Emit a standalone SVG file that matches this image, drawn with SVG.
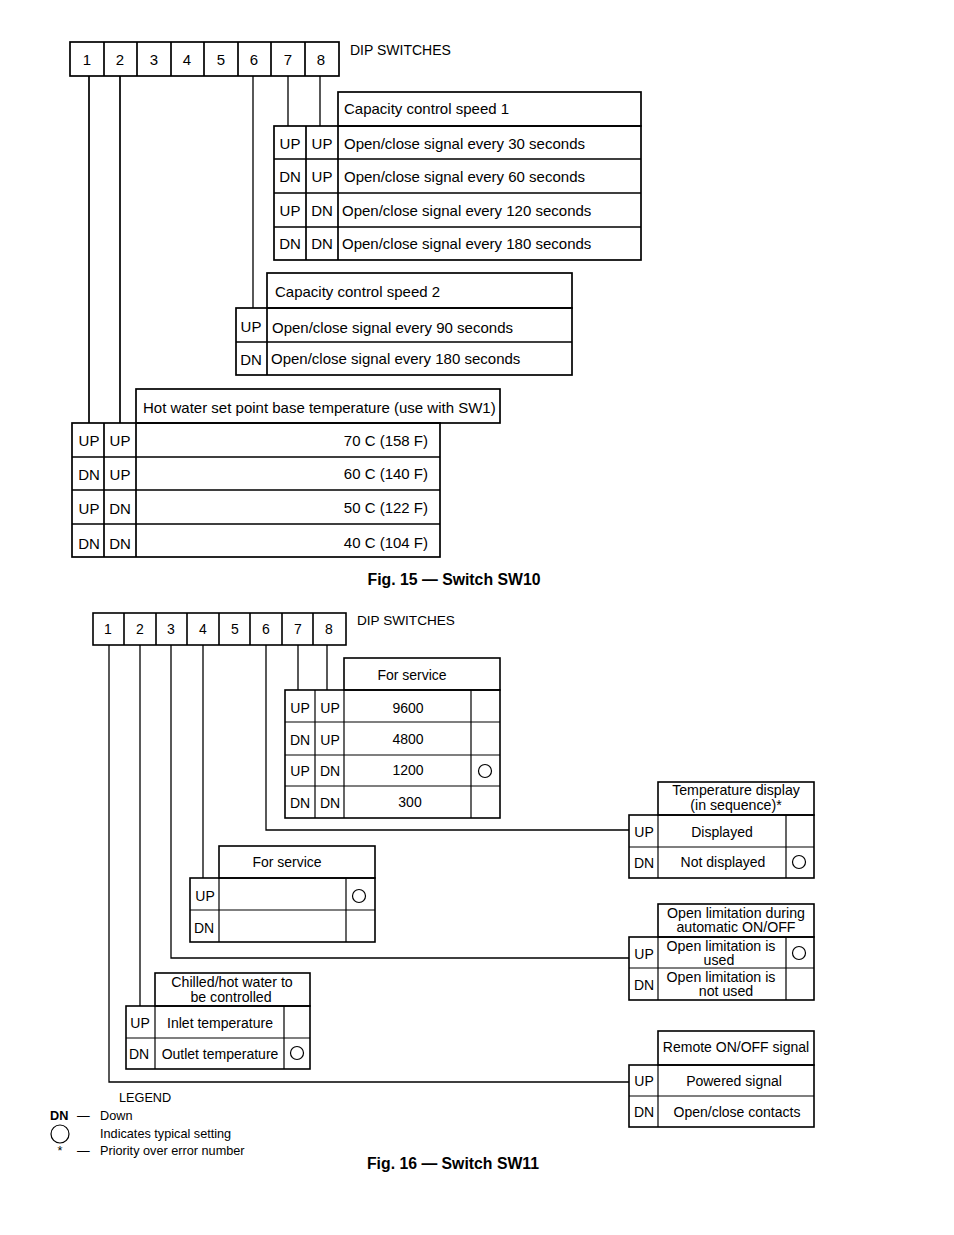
<svg xmlns="http://www.w3.org/2000/svg" width="954" height="1235" viewBox="0 0 954 1235">
<style>
text{font-family:"Liberation Sans",Arial,sans-serif;fill:#000}
.a{font-size:15px}
.b{font-size:14px}
.s{font-size:14.2px}
.d{font-size:13.6px}
.g{font-size:12.7px}
.m{text-anchor:middle}
.r{text-anchor:end}
.ttl{font-size:15.8px;font-weight:bold;text-anchor:middle}
.k{fill:none;stroke:#000;stroke-width:1.7}
.n{fill:none;stroke:#000;stroke-width:1.3}
.w{fill:none;stroke:#000;stroke-width:1.6}
.v{fill:none;stroke:#000;stroke-width:1.2}
.o{fill:none;stroke:#000;stroke-width:1.2}
</style>
<rect width="954" height="1235" fill="#fff"/>

<!-- ================= FIG 15 ================= -->
<g id="sw10-dip">
<rect class="k" x="70" y="42" width="269" height="34"/>
<path class="k" d="M104,42V76M137,42V76M171,42V76M204,42V76M238,42V76M271,42V76M305,42V76"/>
<text class="a m" x="87" y="65">1</text>
<text class="a m" x="120" y="65">2</text>
<text class="a m" x="154" y="65">3</text>
<text class="a m" x="187" y="65">4</text>
<text class="a m" x="221" y="65">5</text>
<text class="a m" x="254" y="65">6</text>
<text class="a m" x="288" y="65">7</text>
<text class="a m" x="321" y="65">8</text>
<text class="b" x="350" y="55">DIP SWITCHES</text>
</g>

<g id="sw10-connectors">
<path class="k" d="M89,76V423M120,76V423"/>
<path class="n" d="M253,76V308M288,76V126M320,76V126"/>
</g>

<g id="sw10-speed1">
<rect class="k" x="338" y="92" width="303" height="34"/>
<rect class="k" x="274" y="126" width="367" height="134"/>
<path class="k" d="M274,159H641M274,193H641M274,227H641M306,126V260M338,126V260"/>
<text class="a" x="344" y="114">Capacity control speed 1</text>
<text class="a m" x="290" y="149">UP</text><text class="a m" x="322" y="149">UP</text>
<text class="a" x="344" y="149">Open/close signal every 30 seconds</text>
<text class="a m" x="290" y="182">DN</text><text class="a m" x="322" y="182">UP</text>
<text class="a" x="344" y="182">Open/close signal every 60 seconds</text>
<text class="a m" x="290" y="216">UP</text><text class="a m" x="322" y="216">DN</text>
<text class="a" x="342" y="216">Open/close signal every 120 seconds</text>
<text class="a m" x="290" y="249">DN</text><text class="a m" x="322" y="249">DN</text>
<text class="a" x="342" y="249">Open/close signal every 180 seconds</text>
</g>

<g id="sw10-speed2">
<rect class="k" x="267" y="273" width="305" height="35"/>
<rect class="k" x="236" y="308" width="336" height="67"/>
<path class="k" d="M236,342H572M267,308V375"/>
<text class="a" x="275" y="297">Capacity control speed 2</text>
<text class="a m" x="251" y="332">UP</text>
<text class="a" x="272" y="333">Open/close signal every 90 seconds</text>
<text class="a m" x="251" y="365">DN</text>
<text class="a" x="271" y="364">Open/close signal every 180 seconds</text>
</g>

<g id="sw10-hotwater">
<rect class="k" x="136" y="389" width="364" height="34"/>
<rect class="k" x="72" y="423" width="368" height="134"/>
<path class="k" d="M72,457H440M72,490H440M72,524H440M104,423V557M136,423V557"/>
<text class="a" x="143" y="413">Hot water set point base temperature (use with SW1)</text>
<text class="a m" x="89" y="446">UP</text><text class="a m" x="120" y="446">UP</text>
<text class="a r" x="428" y="446">70 C (158 F)</text>
<text class="a m" x="89" y="480">DN</text><text class="a m" x="120" y="480">UP</text>
<text class="a r" x="428" y="479">60 C (140 F)</text>
<text class="a m" x="89" y="514">UP</text><text class="a m" x="120" y="514">DN</text>
<text class="a r" x="428" y="513">50 C (122 F)</text>
<text class="a m" x="89" y="549">DN</text><text class="a m" x="120" y="549">DN</text>
<text class="a r" x="428" y="548">40 C (104 F)</text>
</g>

<text class="ttl" x="454" y="585">Fig. 15 — Switch SW10</text>

<!-- ================= FIG 16 ================= -->
<g id="sw11-dip">
<rect class="w" x="93" y="613" width="253" height="32"/>
<path class="w" d="M124,613V645M156,613V645M187,613V645M219,613V645M250,613V645M282,613V645M313,613V645"/>
<text class="b m" x="108" y="634">1</text>
<text class="b m" x="140" y="634">2</text>
<text class="b m" x="171" y="634">3</text>
<text class="b m" x="203" y="634">4</text>
<text class="b m" x="235" y="634">5</text>
<text class="b m" x="266" y="634">6</text>
<text class="b m" x="298" y="634">7</text>
<text class="b m" x="329" y="634">8</text>
<text class="d" x="357" y="625">DIP SWITCHES</text>
</g>

<g id="sw11-connectors">
<path class="n" d="M109,645V1082H629"/>
<path class="n" d="M140,645V1006"/>
<path class="n" d="M171,645V958H629"/>
<path class="n" d="M203,645V878"/>
<path class="n" d="M266,645V830H629"/>
<path class="n" d="M298,645V690M327,645V690"/>
</g>

<g id="sw11-baud">
<rect class="w" x="344" y="658" width="156" height="32"/>
<rect class="w" x="285" y="690" width="215" height="128"/>
<path class="v" d="M285,722H500M285,755H500M285,786H500M315,690V818M344,690V818M471,690V818"/>
<text class="b m" x="412" y="680">For service</text>
<text class="b m" x="300" y="713">UP</text><text class="b m" x="330" y="713">UP</text><text class="b m" x="408" y="713">9600</text>
<text class="b m" x="300" y="745">DN</text><text class="b m" x="330" y="745">UP</text><text class="b m" x="408" y="744">4800</text>
<text class="b m" x="300" y="776">UP</text><text class="b m" x="330" y="776">DN</text><text class="b m" x="408" y="775">1200</text>
<circle class="o" cx="485" cy="771" r="6.5"/>
<text class="b m" x="300" y="808">DN</text><text class="b m" x="330" y="808">DN</text><text class="b m" x="410" y="807">300</text>
</g>

<g id="sw11-tempdisplay">
<rect class="w" x="658" y="782" width="156" height="33"/>
<rect class="w" x="629" y="815" width="185" height="63"/>
<path class="v" d="M629,847H814M658,815V878M786,815V878"/>
<text class="s m" x="736" y="795">Temperature display</text>
<text class="s m" x="736" y="810">(in sequence)*</text>
<text class="b m" x="644" y="837">UP</text><text class="b m" x="722" y="837">Displayed</text>
<text class="b m" x="644" y="868">DN</text><text class="b m" x="723" y="867">Not displayed</text>
<circle class="o" cx="799" cy="862" r="6.5"/>
</g>

<g id="sw11-openlimit">
<rect class="w" x="658" y="904" width="156" height="33"/>
<rect class="w" x="629" y="937" width="185" height="63"/>
<path class="v" d="M629,968H814M658,937V1000M786,937V1000"/>
<text class="s m" x="736" y="918">Open limitation during</text>
<text class="s m" x="736" y="932">automatic ON/OFF</text>
<text class="b m" x="644" y="959">UP</text>
<text class="s m" x="721" y="951">Open limitation is</text>
<text class="s m" x="719" y="965">used</text>
<circle class="o" cx="799" cy="953" r="6.5"/>
<text class="b m" x="644" y="990">DN</text>
<text class="s m" x="721" y="982">Open limitation is</text>
<text class="s m" x="726" y="996">not used</text>
</g>

<g id="sw11-remote">
<rect class="w" x="658" y="1031" width="156" height="34"/>
<rect class="w" x="629" y="1065" width="185" height="62"/>
<path class="v" d="M629,1096H814M658,1065V1127"/>
<text class="b m" x="736" y="1052">Remote ON/OFF signal</text>
<text class="b m" x="644" y="1086">UP</text><text class="b m" x="734" y="1086">Powered signal</text>
<text class="b m" x="644" y="1117">DN</text><text class="b m" x="737" y="1117">Open/close contacts</text>
</g>

<g id="sw11-service4">
<rect class="w" x="219" y="846" width="156" height="32"/>
<rect class="w" x="190" y="878" width="185" height="64"/>
<path class="v" d="M190,910H375M219,878V942M346,878V942"/>
<text class="b m" x="287" y="867">For service</text>
<text class="b m" x="205" y="901">UP</text>
<circle class="o" cx="359" cy="896" r="6.5"/>
<text class="b m" x="204" y="933">DN</text>
</g>

<g id="sw11-chilled">
<rect class="w" x="155" y="973" width="155" height="33"/>
<rect class="w" x="126" y="1006" width="184" height="63"/>
<path class="v" d="M126,1038H310M155,1006V1069M284,1006V1069"/>
<text class="s m" x="232" y="987">Chilled/hot water to</text>
<text class="s m" x="231" y="1002">be controlled</text>
<text class="b m" x="140" y="1028">UP</text><text class="b m" x="220" y="1028">Inlet temperature</text>
<text class="b m" x="139" y="1059">DN</text><text class="b m" x="220" y="1059">Outlet temperature</text>
<circle class="o" cx="297" cy="1053" r="6.5"/>
</g>

<g id="legend">
<text class="g" x="119" y="1102">LEGEND</text>
<text class="g" x="50" y="1120" style="font-weight:bold">DN</text>
<text class="g" x="77" y="1120">—</text>
<text class="g" x="100" y="1120">Down</text>
<circle class="o" cx="60" cy="1134" r="9"/>
<text class="g" x="100" y="1138">Indicates typical setting</text>
<text class="g m" x="60" y="1155">*</text>
<text class="g" x="77" y="1155">—</text>
<text class="g" x="100" y="1155">Priority over error number</text>
</g>

<text class="ttl" x="453" y="1169">Fig. 16 — Switch SW11</text>
</svg>
